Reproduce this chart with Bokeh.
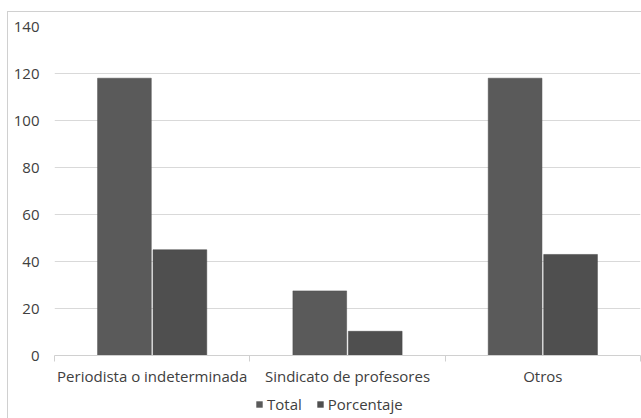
from bokeh.plotting import figure
from bokeh.layouts import column
from bokeh.models import ColumnDataSource, Range1d, FixedTicker, Legend, LegendItem
from bokeh.embed import file_html
from bokeh.resources import INLINE

categories = ["Periodista o indeterminada", "Sindicato de profesores", "Otros"]
series = ["Total", "Porcentaje"]
total = [118, 27.5, 118]
porcentaje = [45, 10.3, 43]
y_ticks = [0, 20, 40, 60, 80, 100, 120, 140]

centers = [i + 0.5 for i in range(len(categories))]
bounds = [i for i in range(len(categories) + 1)]

src = ColumnDataSource(dict(
    xt=[c - 0.142 for c in centers],
    xp=[c + 0.142 for c in centers],
    total=total,
    porcentaje=porcentaje,
))

FONT = "Open Sans"
TXT = "#404040"
C_TOTAL = "#5a5a5a"
C_PORC = "#4f4f4f"

p = figure(width=633, height=376, output_backend="svg", toolbar_location=None,
           x_range=Range1d(0, len(categories)), y_range=Range1d(0, 140),
           min_border_left=46, min_border_right=1, min_border_top=14, min_border_bottom=32)
p.outline_line_color = None

p.vbar(x="xt", top="total", width=0.275, source=src,
       fill_color=C_TOTAL, line_color="#4a4a4a", line_width=0.5)
p.vbar(x="xp", top="porcentaje", width=0.275, source=src,
       fill_color=C_PORC, line_color="#404040", line_width=0.5)

# x axis
xa = p.xaxis[0]
xa.ticker = FixedTicker(ticks=centers, minor_ticks=bounds)
xa.major_label_overrides = {c: n for c, n in zip(centers, categories)}
xa.major_tick_line_color = None
xa.minor_tick_out = 6
xa.minor_tick_in = 0
xa.minor_tick_line_color = "#d0d0d0"
xa.axis_line_color = "#d0d0d0"
xa.major_label_text_font = FONT
xa.major_label_text_font_size = "15px"
xa.major_label_text_color = TXT
xa.major_label_standoff = 4
p.xgrid.grid_line_color = None

# y axis
ya = p.yaxis[0]
ya.ticker = FixedTicker(ticks=y_ticks)
ya.axis_line_color = None
ya.major_tick_line_color = None
ya.minor_tick_line_color = None
ya.major_tick_out = 0
ya.major_tick_in = 0
ya.minor_tick_out = 0
ya.minor_tick_in = 0
ya.major_label_text_font = FONT
ya.major_label_text_font_size = "15px"
ya.major_label_text_color = TXT
ya.major_label_standoff = 15
p.ygrid.ticker = FixedTicker(ticks=y_ticks)
p.ygrid.grid_line_color = "#d9d9d9"
p.ygrid.grid_line_width = 1

# legend strip (zero-width bars outside its visible range; only the legend shows)
pl = figure(width=633, height=30, output_backend="svg", toolbar_location=None,
            x_range=Range1d(0, len(categories)), y_range=Range1d(-2, -1),
            x_axis_location=None, y_axis_location=None,
            min_border_left=0, min_border_right=0, min_border_top=0, min_border_bottom=0)
pl.outline_line_color = None
pl.grid.visible = False
lt = pl.vbar(x="xt", top="total", width=0, source=src,
             fill_color=C_TOTAL, line_color=None)
lp = pl.vbar(x="xp", top="porcentaje", width=0, source=src,
             fill_color=C_PORC, line_color=None)
legend = Legend(items=[LegendItem(label=series[0], renderers=[lt]),
                       LegendItem(label=series[1], renderers=[lp])],
                orientation="horizontal", location=(201, 4),
                glyph_width=8, glyph_height=8, label_standoff=4, spacing=14,
                label_text_font=FONT, label_text_font_size="15px",
                label_text_color=TXT, border_line_color=None,
                background_fill_alpha=0, padding=0, margin=0)
pl.add_layout(legend, "center")

layout = column(p, pl, spacing=0)
layout.styles = {"border-top": "1px solid #d0d0d0", "border-left": "1px solid #d0d0d0",
                 "margin-top": "11px", "margin-left": "7px"}

open("out.html", "w").write(file_html(layout, INLINE))
